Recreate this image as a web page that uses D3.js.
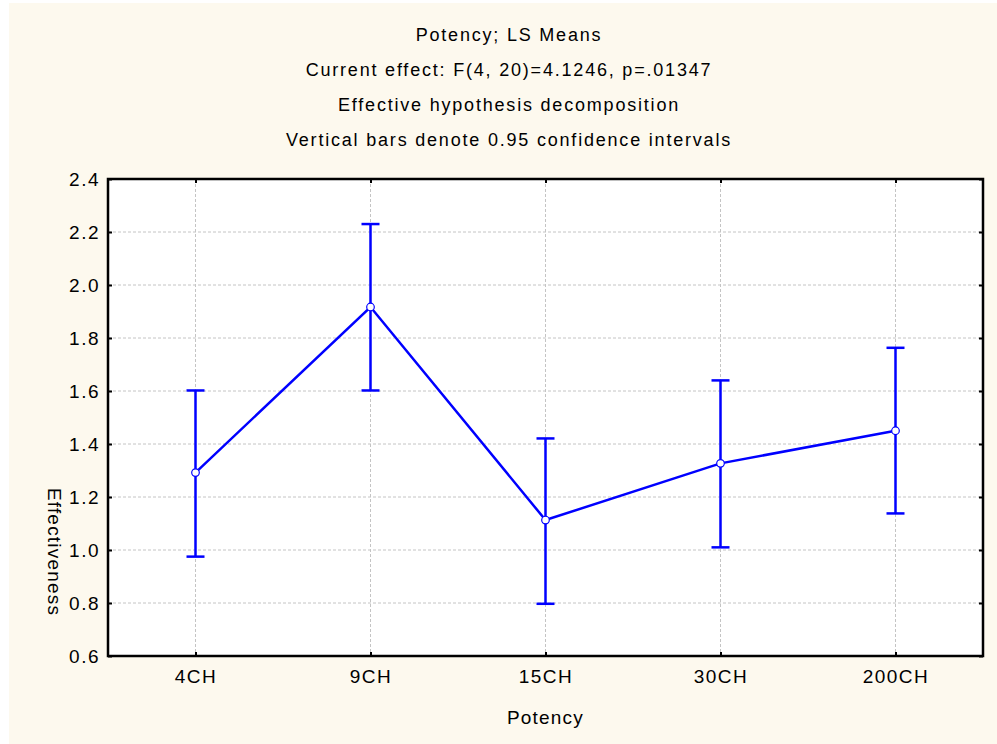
<!DOCTYPE html>
<html>
<head>
<meta charset="utf-8">
<script src="https://cdn.jsdelivr.net/npm/d3@7"></script>
<style>
  body { margin: 0; background: #ffffff; }
  text { font-family: "Liberation Sans", Arial, sans-serif; fill: #000; }
</style>
</head>
<body>
<div id="chart"></div>
<script>
const categories = ["4CH", "9CH", "15CH", "30CH", "200CH"];
const means = [1.292, 1.917, 1.113, 1.327, 1.450];
const lower = [0.975, 1.602, 0.797, 1.010, 1.138];
const upper = [1.602, 2.230, 1.421, 1.640, 1.763];
const yTicks = [0.6, 0.8, 1.0, 1.2, 1.4, 1.6, 1.8, 2.0, 2.2, 2.4];
const titleLines = [
  "Potency; LS Means",
  "Current effect: F(4, 20)=4.1246, p=.01347",
  "Effective hypothesis decomposition",
  "Vertical bars denote 0.95 confidence intervals"
];

const W = 997, H = 744;
const margin = { top: 179, right: 14, bottom: 88, left: 108 };
const width = W - margin.left - margin.right;
const height = H - margin.top - margin.bottom;

const svg = d3.select("#chart").append("svg")
  .attr("width", W).attr("height", H);

// cream panel
svg.append("rect")
  .attr("x", 9).attr("y", 3)
  .attr("width", W - 9).attr("height", H - 3)
  .attr("fill", "#fdf9ee");

// titles
svg.selectAll(".title")
  .data(titleLines)
  .enter().append("text")
  .attr("class", "title")
  .attr("x", 509)
  .attr("y", (d, i) => 41 + i * 35)
  .attr("text-anchor", "middle")
  .style("font-size", "18px")
  .style("letter-spacing", "1.8px")
  .text(d => d);

const chart = svg.append("g")
  .attr("transform", `translate(${margin.left},${margin.top})`);

chart.append("rect")
  .attr("width", width).attr("height", height)
  .attr("fill", "#ffffff");

const x = d3.scalePoint().domain(categories).range([0, width]).padding(0.5);
const y = d3.scaleLinear().domain([0.6, 2.4]).range([height, 0]);

// grid
chart.selectAll(".hgrid")
  .data(yTicks.slice(1, -1))
  .enter().append("line")
  .attr("x1", 0).attr("x2", width)
  .attr("y1", d => y(d)).attr("y2", d => y(d))
  .attr("stroke", "#c4c4c4").attr("stroke-dasharray", "3,2");

chart.selectAll(".vgrid")
  .data(categories)
  .enter().append("line")
  .attr("x1", d => x(d)).attr("x2", d => x(d))
  .attr("y1", 0).attr("y2", height)
  .attr("stroke", "#c4c4c4").attr("stroke-dasharray", "3,2");

// axes
const yAxis = chart.append("g")
  .call(d3.axisLeft(y).tickValues(yTicks).tickFormat(d3.format(".1f")).tickSizeInner(-4).tickSizeOuter(0).tickPadding(8));
const yAxisR = chart.append("g")
  .attr("transform", `translate(${width},0)`)
  .call(d3.axisRight(y).tickValues(yTicks).tickFormat("").tickSizeInner(-4).tickSizeOuter(0));
const xAxis = chart.append("g")
  .attr("transform", `translate(0,${height})`)
  .call(d3.axisBottom(x).tickSizeInner(-4).tickSizeOuter(0).tickPadding(14));
const xAxisT = chart.append("g")
  .call(d3.axisTop(x).tickFormat("").tickSizeInner(-4).tickSizeOuter(0));

[yAxis, yAxisR, xAxis, xAxisT].forEach(a => {
  a.select(".domain").remove();
  a.selectAll(".tick line").attr("stroke", "#000").attr("stroke-width", 2);
  a.selectAll("text")
    .style("font-family", "\"Liberation Sans\", Arial, sans-serif")
    .style("font-size", "19px")
    .style("letter-spacing", "1.5px")
    .attr("fill", "#000");
});

chart.append("rect")
  .attr("width", width).attr("height", height)
  .attr("fill", "none").attr("stroke", "#000").attr("stroke-width", 2.5);

// error bars
const capW = 9;
const bars = chart.selectAll(".err")
  .data(categories)
  .enter().append("g");

bars.append("line")
  .attr("x1", d => x(d)).attr("x2", d => x(d))
  .attr("y1", (d, i) => y(upper[i])).attr("y2", (d, i) => y(lower[i]))
  .attr("stroke", "#0000ff").attr("stroke-width", 2.5);
bars.append("line")
  .attr("x1", d => x(d) - capW).attr("x2", d => x(d) + capW)
  .attr("y1", (d, i) => y(upper[i])).attr("y2", (d, i) => y(upper[i]))
  .attr("stroke", "#0000ff").attr("stroke-width", 2.5);
bars.append("line")
  .attr("x1", d => x(d) - capW).attr("x2", d => x(d) + capW)
  .attr("y1", (d, i) => y(lower[i])).attr("y2", (d, i) => y(lower[i]))
  .attr("stroke", "#0000ff").attr("stroke-width", 2.5);

// mean line
const line = d3.line()
  .x((d, i) => x(categories[i]))
  .y(d => y(d));

chart.append("path")
  .datum(means)
  .attr("d", line)
  .attr("fill", "none")
  .attr("stroke", "#0000ff")
  .attr("stroke-width", 2.5);

chart.selectAll(".pt")
  .data(means)
  .enter().append("circle")
  .attr("cx", (d, i) => x(categories[i]))
  .attr("cy", d => y(d))
  .attr("r", 3.8)
  .attr("fill", "#ffffff")
  .attr("stroke", "#0000ff")
  .attr("stroke-width", 1.2);

// axis titles
svg.append("text")
  .attr("x", margin.left + width / 2)
  .attr("y", 724)
  .attr("text-anchor", "middle")
  .style("font-size", "19px")
  .style("letter-spacing", "1.2px")
  .text("Potency");

svg.append("text")
  .attr("transform", "translate(48,552) rotate(90)")
  .attr("text-anchor", "middle")
  .style("font-size", "19px")
  .style("letter-spacing", "1.2px")
  .text("Effectiveness");
</script>
</body>
</html>
